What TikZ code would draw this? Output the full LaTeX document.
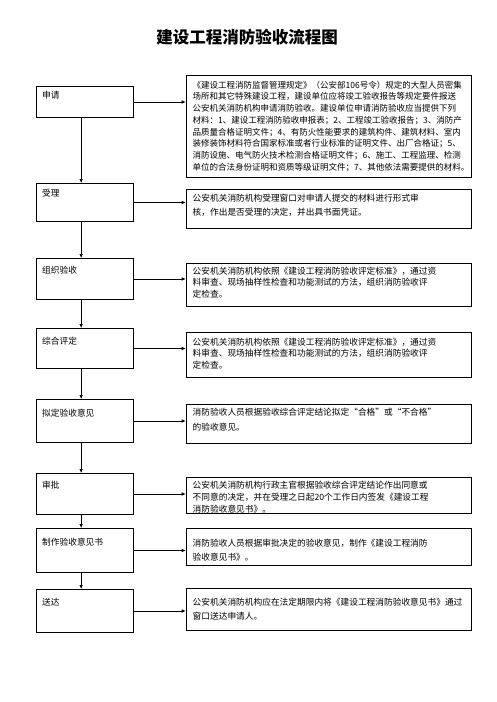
\documentclass[tikz,border=0pt]{standalone}
\usepackage{fontspec}
\setmainfont{Noto Sans CJK SC}
\usetikzlibrary{arrows.meta}

\begin{document}
\begin{tikzpicture}[x=1pt,y=-1pt,
    stepbox/.style={draw,line width=1pt,minimum width=97.3pt,inner sep=0pt,anchor=north west},
    infobox/.style={draw,line width=1pt,minimum width=285.3pt,inner sep=0pt,anchor=north west},
    steplabel/.style={anchor=west,inner sep=0pt,font=\fontsize{8.7}{10}\selectfont},
    infotext/.style={anchor=north west,inner sep=0pt,align=left},
    flow/.style={-{Latex[length=4pt,width=3.5pt]},line width=0.6pt}]
  \useasboundingbox (0,0) rectangle (496,702);
  % Title
  \node[font=\fontsize{16.5}{18}\selectfont\bfseries] (title) at (247,37) {建设工程消防验收流程图};

  % Draw the step boxes on the left
  \node[stepbox,minimum height=31pt] (s1) at (35.7,86) {};
  \node[stepbox,minimum height=38pt] (s2) at (35.7,183) {};
  \node[stepbox,minimum height=41pt] (s3) at (35.7,258) {};
  \node[stepbox,minimum height=40pt] (s4) at (35.7,328) {};
  \node[stepbox,minimum height=43pt] (s5) at (35.7,399) {};
  \node[stepbox,minimum height=41pt] (s6) at (35.7,473) {};
  \node[stepbox,minimum height=44pt] (s7) at (35.7,528) {};
  \node[stepbox,minimum height=43pt] (s8) at (35.7,589) {};

  \node[steplabel] (l1) at (42,95) {申请};
  \node[steplabel] (l2) at (42,193) {受理};
  \node[steplabel] (l3) at (42,270) {组织验收};
  \node[steplabel] (l4) at (42,341.5) {综合评定};
  \node[steplabel] (l5) at (42,413) {拟定验收意见};
  \node[steplabel] (l6) at (42,485) {审批};
  \node[steplabel] (l7) at (42,542) {制作验收意见书};
  \node[steplabel] (l8) at (42,602) {送达};

  % Draw the description boxes on the right
  \node[infobox,minimum height=102pt] (r1) at (185.7,75) {};
  \node[infobox,minimum height=39pt] (r2) at (185.7,189) {};
  \node[infobox,minimum height=43pt] (r3) at (185.7,263) {};
  \node[infobox,minimum height=45pt] (r4) at (185.7,332) {};
  \node[infobox,minimum height=39pt] (r5) at (185.7,404) {};
  \node[infobox,minimum height=36pt] (r6) at (185.7,477) {};
  \node[infobox,minimum height=37pt] (r7) at (185.7,528) {};
  \node[infobox,minimum height=42pt] (r8) at (185.7,588) {};

  \node[infotext,font=\fontsize{8.5}{11.7}\selectfont] (t1) at (192.5,80.8) {%
    《建设工程消防监督管理规定》（公安部106号令）规定的大型人员密集\\
    场所和其它特殊建设工程，建设单位应将竣工验收报告等规定要件报送\\
    公安机关消防机构申请消防验收。建设单位申请消防验收应当提供下列\\
    材料：1、建设工程消防验收申报表；2、工程竣工验收报告；3、消防产\\
    品质量合格证明文件；4、有防火性能要求的建筑构件、建筑材料、室内\\
    装修装饰材料符合国家标准或者行业标准的证明文件、出厂合格证；5、\\
    消防设施、电气防火技术检测合格证明文件；6、施工、工程监理、检测\\
    单位的合法身份证明和资质等级证明文件；7、其他依法需要提供的材料。};
  \node[infotext,font=\fontsize{8.7}{14}\selectfont] (t2) at (192.5,193.6) {%
    公安机关消防机构受理窗口对申请人提交的材料进行形式审\\
    核，作出是否受理的决定，并出具书面凭证。};
  \node[infotext,font=\fontsize{8.7}{11.7}\selectfont] (t3) at (192.5,266.6) {%
    公安机关消防机构依照《建设工程消防验收评定标准》，通过资\\
    料审查、现场抽样性检查和功能测试的方法，组织消防验收评\\
    定检查。};
  \node[infotext,font=\fontsize{8.7}{11.7}\selectfont] (t4) at (192.5,337.6) {%
    公安机关消防机构依照《建设工程消防验收评定标准》，通过资\\
    料审查、现场抽样性检查和功能测试的方法，组织消防验收评\\
    定检查。};
  \node[infotext,font=\fontsize{8.7}{15}\selectfont] (t5) at (192.5,408) {%
    消防验收人员根据验收综合评定结论拟定“合格”或“不合格”\\
    的验收意见。};
  \node[infotext,font=\fontsize{8.7}{11.7}\selectfont] (t6) at (192.5,481.3) {%
    公安机关消防机构行政主官根据验收综合评定结论作出同意或\\
    不同意的决定，并在受理之日起20个工作日内签发《建设工程\\
    消防验收意见书》。};
  \node[infotext,font=\fontsize{8.7}{14}\selectfont] (t7) at (192.5,538.6) {%
    消防验收人员根据审批决定的验收意见，制作《建设工程消防\\
    验收意见书》。};
  \node[infotext,font=\fontsize{8.7}{14.5}\selectfont] (t8) at (192.5,597.6) {%
    公安机关消防机构应在法定期限内将《建设工程消防验收意见书》通过\\
    窗口送达申请人。};

  % Draw the arrows to the right
  \draw[flow] (s1.east) -- (s1.east -| r1.west);
  \draw[flow] (s2.east) -- (s2.east -| r2.west);
  \draw[flow] (s3.east) -- (s3.east -| r3.west);
  \draw[flow] (s4.east) -- (s4.east -| r4.west);
  \draw[flow] (s5.east) -- (s5.east -| r5.west);
  \draw[flow] (s6.east) -- (s6.east -| r6.west);
  \draw[flow] (s7.east) -- (s7.east -| r7.west);
  \draw[flow] (s8.east) -- (s8.east -| r8.west);

  % Draw the arrows down
  \draw[flow] ([xshift=-3.7pt]s1.south) -- ([xshift=-3.7pt]s1.south |- s2.north);
  \draw[flow] ([xshift=-3.7pt]s2.south) -- ([xshift=-3.7pt]s2.south |- s3.north);
  \draw[flow] ([xshift=-3.7pt]s3.south) -- ([xshift=-3.7pt]s3.south |- s4.north);
  \draw[flow] ([xshift=-3.7pt]s4.south) -- ([xshift=-3.7pt]s4.south |- s5.north);
  \draw[flow] ([xshift=-3.7pt]s5.south) -- ([xshift=-3.7pt]s5.south |- s6.north);
  \draw[flow] ([xshift=-3.7pt]s6.south) -- ([xshift=-3.7pt]s6.south |- s7.north);
  \draw[flow] ([xshift=-3.7pt]s7.south) -- ([xshift=-3.7pt]s7.south |- s8.north);
\end{tikzpicture}
\end{document}
